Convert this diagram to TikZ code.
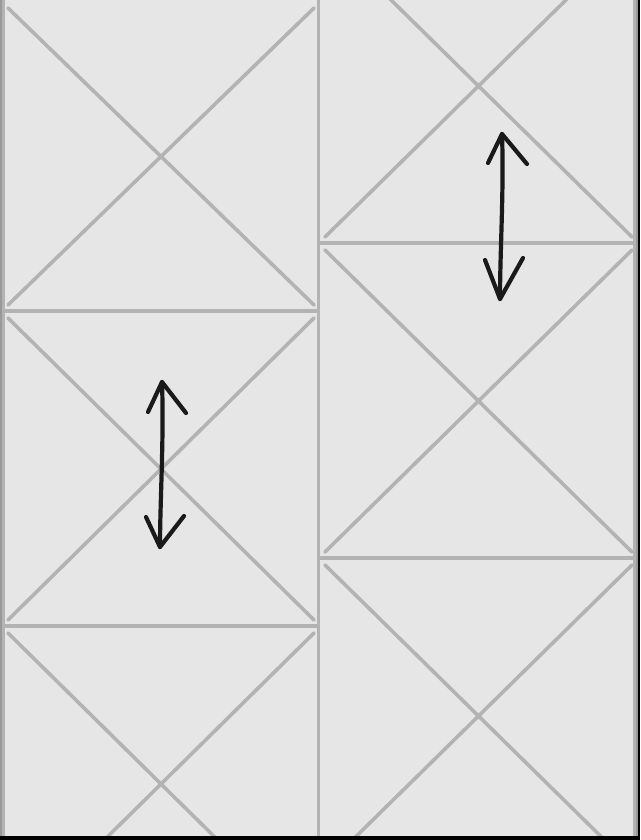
\documentclass[tikz,border=0pt]{standalone}
\usepackage{tikz}

\definecolor{tilebg}{HTML}{E6E6E6}
\definecolor{tilegray}{HTML}{B3B3B3}
\definecolor{edgegray}{HTML}{999999}
\definecolor{inkblack}{HTML}{1A1A1A}

\tikzset{every picture/.style={line width=0.75pt}}
\tikzset{
  tileline/.style={tilegray, line width=3.6pt},
  diagline/.style={tilegray, line width=3.6pt, line cap=round},
  swapline/.style={inkblack, line width=4.2pt, line cap=round, line join=round}
}

\begin{document}
\begin{tikzpicture}[x=1pt, y=-1pt]
\useasboundingbox (0,0) rectangle (640,840);
\clip (0,0) rectangle (640,840);

\fill[tilebg] (0,0) rectangle (640,840);

% left column tiles
\foreach \ytop/\ybot in {8/305, 318/620, 633/935} {
    \draw[diagline] (8,\ytop) -- (314,\ybot);
    \draw[diagline] (314,\ytop) -- (8,\ybot);
}
\draw[tileline] (3.5,311) -- (318.5,311);
\draw[tileline] (3.5,626) -- (318.5,626);

% right column tiles
\foreach \ytop/\ybot in {-65/237, 250/552, 565/867} {
    \draw[diagline] (325,\ytop) -- (632,\ybot);
    \draw[diagline] (632,\ytop) -- (325,\ybot);
}
\draw[tileline] (318.5,243) -- (635,243);
\draw[tileline] (318.5,558) -- (635,558);

% column edges
\draw[tileline] (3.5,0) -- (3.5,840);
\draw[tileline] (318.5,0) -- (318.5,840);
\draw[tileline] (634.5,0) -- (634.5,840);
\fill[edgegray] (0,0) rectangle (1.5,840);
\fill[edgegray] (636,0) rectangle (637.5,840);
\fill[black] (637.5,0) rectangle (640,840);
\fill[black] (0,836) rectangle (640,840);

% swap arrows
\draw[swapline] (162,382) .. controls (164,440) and (160,500) .. (160,547);
\draw[swapline] (148,412) -- (162,382) -- (186,413);
\draw[swapline] (146,517) -- (160,547) -- (184,516);

\draw[swapline] (502,134) .. controls (504,190) and (500,250) .. (500,299);
\draw[swapline] (488,163) -- (502,134) -- (527,164);
\draw[swapline] (485,260) -- (500,299) -- (523,258);

\end{tikzpicture}
\end{document}
